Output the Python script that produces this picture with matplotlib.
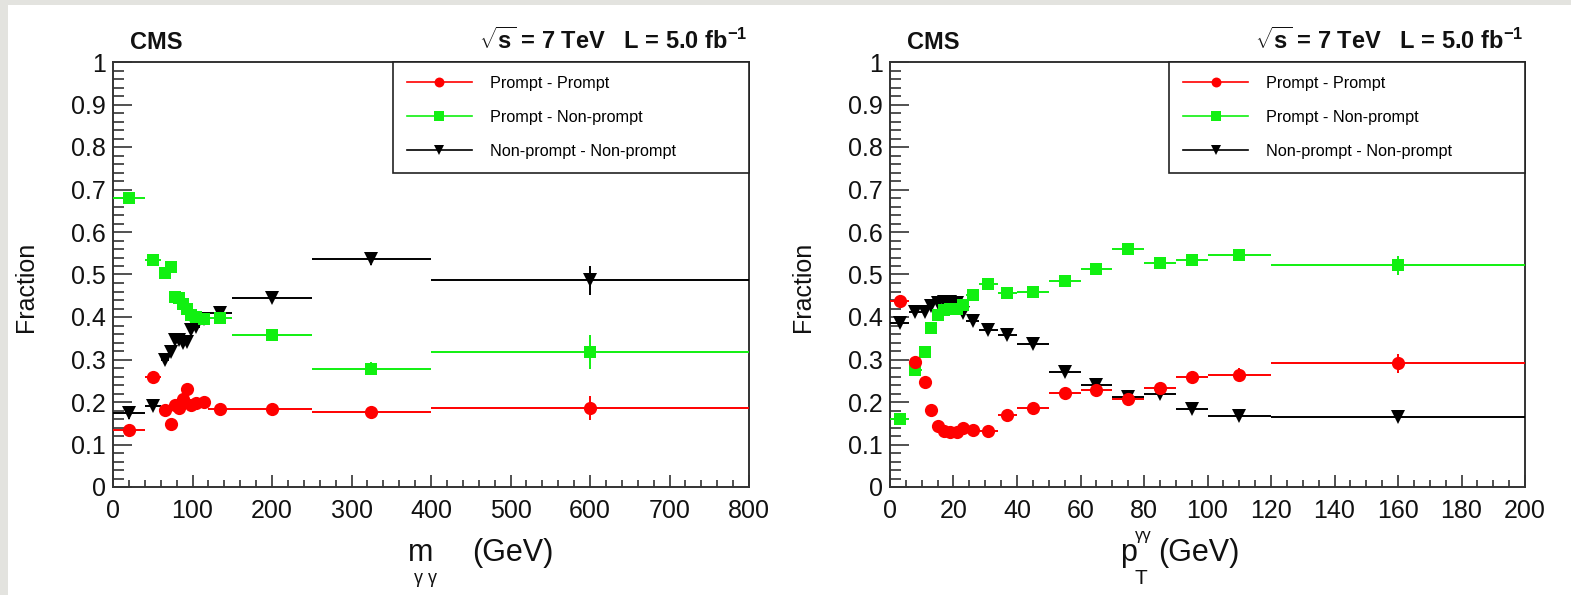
import numpy as np
import matplotlib
matplotlib.use('Agg')
import matplotlib.pyplot as plt
from matplotlib.lines import Line2D
from matplotlib.patches import Rectangle
from matplotlib.ticker import MultipleLocator, FuncFormatter

plt.rcParams['font.family'] = ['Liberation Sans', 'DejaVu Sans']
plt.rcParams['mathtext.fontset'] = 'custom'
plt.rcParams['mathtext.rm'] = 'Liberation Sans'
plt.rcParams['mathtext.it'] = 'Liberation Sans'
plt.rcParams['mathtext.bf'] = 'Liberation Sans:bold'

# m_gg panel
m_edges = [0, 40, 60, 70, 75, 80, 85, 90, 95, 100, 110, 120, 150, 250, 400, 800]
m_pp = [0.135, 0.26, 0.181, 0.148, 0.193, 0.185, 0.208, 0.230, 0.193, 0.198, 0.201, 0.183, 0.183, 0.176, 0.185]
m_pn = [0.68, 0.533, 0.503, 0.518, 0.447, 0.445, 0.43, 0.418, 0.405, 0.40, 0.395, 0.397, 0.358, 0.278, 0.318]
m_nn = [0.173, 0.19, 0.299, 0.318, 0.347, 0.346, 0.34, 0.342, 0.369, 0.377, 0.395, 0.41, 0.445, 0.537, 0.486]
m_pp_err = [0.006, 0.006, 0.005, 0.005, 0.005, 0.005, 0.005, 0.005, 0.005, 0.005, 0.005, 0.005, 0.005, 0.008, 0.028]
m_pn_err = [0.012, 0.008, 0.007, 0.007, 0.007, 0.007, 0.007, 0.007, 0.007, 0.007, 0.007, 0.008, 0.008, 0.015, 0.04]
m_nn_err = [0.012, 0.008, 0.007, 0.007, 0.007, 0.007, 0.007, 0.007, 0.007, 0.007, 0.008, 0.01, 0.01, 0.015, 0.035]

# pT_gg panel
pt_edges = [0, 6, 10, 12, 14, 16, 18, 20, 22, 24, 28, 34, 40, 50, 60, 70, 80, 90, 100, 120, 200]
pt_pp = [0.438, 0.293, 0.248, 0.181, 0.144, 0.132, 0.130, 0.130, 0.138, 0.134, 0.131, 0.169, 0.187, 0.222, 0.228, 0.207, 0.232, 0.26, 0.264, 0.291]
pt_pn = [0.159, 0.275, 0.318, 0.373, 0.405, 0.416, 0.418, 0.42, 0.428, 0.452, 0.478, 0.456, 0.458, 0.485, 0.513, 0.56, 0.528, 0.534, 0.546, 0.522]
pt_nn = [0.385, 0.411, 0.411, 0.426, 0.432, 0.435, 0.436, 0.432, 0.409, 0.391, 0.369, 0.358, 0.336, 0.271, 0.24, 0.212, 0.219, 0.183, 0.168, 0.164]
pt_pp_err = [0.006, 0.006, 0.005, 0.005, 0.005, 0.005, 0.005, 0.005, 0.005, 0.005, 0.005, 0.005, 0.006, 0.006, 0.007, 0.008, 0.01, 0.012, 0.015, 0.022]
pt_pn_err = [0.006, 0.006, 0.006, 0.006, 0.006, 0.006, 0.006, 0.006, 0.006, 0.006, 0.006, 0.006, 0.006, 0.008, 0.008, 0.008, 0.012, 0.015, 0.015, 0.022]
pt_nn_err = [0.006, 0.006, 0.006, 0.006, 0.006, 0.006, 0.006, 0.006, 0.006, 0.006, 0.006, 0.006, 0.006, 0.006, 0.007, 0.007, 0.008, 0.01, 0.008, 0.01]

labels = ['Prompt - Prompt', 'Prompt - Non-prompt', 'Non-prompt - Non-prompt']
colors = ['#ff0000', '#11f011', '#000000']
markers = ['o', 's', 'v']
sizes = [9.5, 9.0, 10]

fig = plt.figure(figsize=(15.71, 5.95), dpi=100, facecolor='#e3e3df')
fig.patches.append(Rectangle((8 / 1571, 0), 1, 590 / 595, transform=fig.transFigure,
                             facecolor='white', edgecolor='none', zorder=-1))

ax1 = fig.add_axes([113 / 1571, 108 / 595, 636 / 1571, 425 / 595])
ax2 = fig.add_axes([890 / 1571, 108 / 595, 635 / 1571, 425 / 595])


def draw(ax, edges, series, errs, xmax, xmaj, xmin):
    edges = np.array(edges, dtype=float)
    xc = 0.5 * (edges[1:] + edges[:-1])
    xe = 0.5 * (edges[1:] - edges[:-1])
    # black first, red on top
    for i in [2, 1, 0]:
        ax.errorbar(xc, series[i], xerr=xe, yerr=errs[i], fmt=markers[i], color=colors[i],
                    ms=sizes[i], mew=0, elinewidth=1.4, capsize=0, zorder=3 + (2 - i))
    ax.set_xlim(0, xmax)
    ax.set_ylim(0, 1)
    ax.xaxis.set_major_locator(MultipleLocator(xmaj))
    ax.xaxis.set_minor_locator(MultipleLocator(xmin))
    ax.yaxis.set_major_locator(MultipleLocator(0.1))
    ax.yaxis.set_minor_locator(MultipleLocator(0.02))
    ax.yaxis.set_major_formatter(FuncFormatter(lambda v, p: '%g' % round(v, 2)))
    ax.tick_params(axis='both', which='both', direction='in', top=False, right=False,
                   width=1.1, color='#222222', labelsize=18, labelcolor='#111111')
    ax.tick_params(axis='y', which='major', length=14, pad=5)
    ax.tick_params(axis='y', which='minor', length=8)
    ax.tick_params(axis='x', which='major', length=8.5, pad=9)
    ax.tick_params(axis='x', which='minor', length=4.7)
    for s in ax.spines.values():
        s.set_linewidth(1.4)
        s.set_color('#333333')
    ax.set_ylabel('Fraction', fontsize=18, color='#111111')
    ax.yaxis.set_label_coords(-0.118, 0.47)

    handles = [Line2D([], [], color=colors[i], marker=markers[i], ms=sizes[i] * 0.75, mew=0, lw=1.2)
               for i in range(3)]
    leg = ax.legend(handles, labels, loc='upper left', bbox_to_anchor=(0.44, 0, 0.56, 1.0),
                    mode='expand', borderaxespad=0, fontsize=11.7, handlelength=4.0,
                    handletextpad=1.1, borderpad=0.85, labelspacing=1.18, fancybox=False,
                    framealpha=1, edgecolor='#222222')
    leg.get_frame().set_linewidth(1.2)
    leg.set_zorder(10)

    ax.text(0.027, 1.03, 'CMS', transform=ax.transAxes, fontsize=17, fontweight='bold',
            ha='left', va='baseline', color='#111111')
    ax.text(0.998, 1.03, r'$\sqrt{\mathbf{s}}$ = 7 TeV   L = 5.0 fb$^{\mathbf{-1}}$',
            transform=ax.transAxes, fontsize=17, fontweight='bold', ha='right',
            va='baseline', color='#111111')


draw(ax1, m_edges, [m_pp, m_pn, m_nn], [m_pp_err, m_pn_err, m_nn_err], 800, 100, 20)
draw(ax2, pt_edges, [pt_pp, pt_pn, pt_nn], [pt_pp_err, pt_pn_err, pt_nn_err], 200, 20, 5)

# x axis titles, ROOT style
ax1.text(0.464, -0.155, 'm', transform=ax1.transAxes, fontsize=22, ha='left', va='center', color='#111111')
ax1.text(0.474, -0.215, '\u03b3 \u03b3', transform=ax1.transAxes, fontsize=13, ha='left', va='center', color='#111111')
ax1.text(0.5645, -0.155, '(GeV)', transform=ax1.transAxes, fontsize=22, ha='left', va='center', color='#111111')

ax2.text(0.362, -0.155, 'p', transform=ax2.transAxes, fontsize=22, ha='left', va='center', color='#111111')
ax2.text(0.385, -0.215, 'T', transform=ax2.transAxes, fontsize=15, ha='left', va='center', color='#111111')
ax2.text(0.385, -0.115, '\u03b3\u03b3', transform=ax2.transAxes, fontsize=12, ha='left', va='center', color='#111111')
ax2.text(0.422, -0.155, '(GeV)', transform=ax2.transAxes, fontsize=22, ha='left', va='center', color='#111111')

fig.savefig('out.png', dpi=100, facecolor=fig.get_facecolor())
